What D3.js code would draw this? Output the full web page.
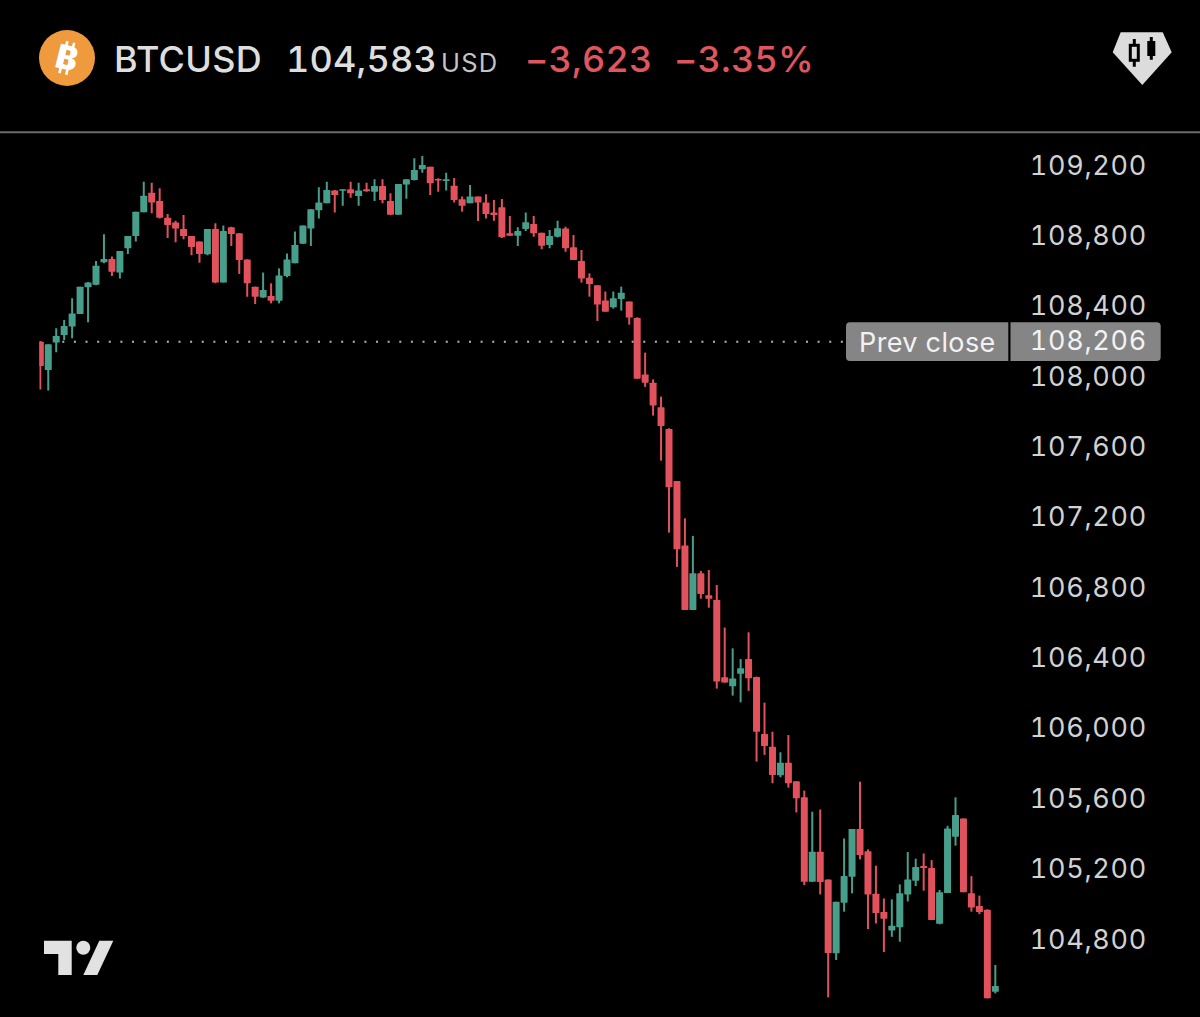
<!DOCTYPE html>
<html>
<head>
<meta charset="utf-8">
<script src="https://cdn.jsdelivr.net/npm/d3@7"></script>
<style>
html, body { margin: 0; padding: 0; background: #000; }
svg { display: block; }
text { font-family: Inter, "Noto Sans", sans-serif; font-variant-numeric: tabular-nums; font-feature-settings: "tnum" 1; }
</style>
</head>
<body>
<div id="graph"></div>
<script>
var opens = [108204,108043,108199,108242,108290,108362,108513,108528,108655,108674,108597,108735,108805,108940,109051,109004,108909,108881,108845,108805,
  108773,108701,108845,108540,108854,108820,108672,108517,108456,108464,108437,108578,108650,108761,108847,108951,108991,109063,109063,109070,
  109032,109070,109057,109089,109004,108926,109097,109123,109184,109199,109129,109118,109091,109014,108991,109029,108996,108938,108968,108820,
  108807,108845,108873,108824,108754,108801,108847,108741,108663,108568,108525,108438,108400,108447,108432,108339,108017,107971,107831,107708,
  107412,107045,106679,106888,106762,106736,106296,106245,106317,106400,106298,105974,105902,105739,105811,105705,105614,105134,105305,105147,
  104727,105015,105163,105434,105308,105066,104962,104857,104876,105062,105140,105223,105212,104895,105070,105390,105494,105068,104996,104975,
  104509];
var closes = [108066,108189,108237,108293,108365,108517,108540,108636,108674,108602,108720,108805,108943,109034,108996,108909,108868,108847,108805,108743,
  108703,108845,108540,108833,108816,108669,108536,108460,108498,108437,108581,108672,108754,108864,108957,108996,109067,109038,109070,109048,
  109063,109059,109089,109010,108926,109101,109127,109180,109209,109105,109120,109127,109010,108977,109029,108995,108930,108924,108798,108807,
  108833,108883,108820,108750,108805,108849,108735,108669,108564,108532,108415,108375,108451,108483,108341,107994,107971,107842,107725,107376,
  107024,106679,106888,106770,106743,106272,106266,106289,106347,106291,105987,105906,105741,105811,105694,105608,105134,105305,105132,104729,
  105020,105166,105434,105286,105062,104956,104924,104884,105068,105147,105218,105212,104916,105075,105437,105513,105075,104988,104962,104471,
  104541];
var highs = [108208,108189,108280,108327,108451,108517,108544,108663,108815,108688,108720,108805,108943,109114,109108,109076,108930,108892,108924,108805,
  108773,108845,108877,108864,108858,108820,108672,108517,108597,108536,108621,108706,108830,108864,108957,109082,109114,109067,109070,109114,
  109108,109108,109127,109127,109048,109101,109127,109247,109260,109199,109133,109165,109135,109029,109095,109029,109042,109010,109015,108919,
  108854,108938,108919,108824,108839,108892,108858,108811,108726,108593,108525,108489,108489,108517,108432,108343,108142,107990,107892,107712,
  107412,107200,107100,106901,106906,106821,106579,106461,106400,106552,106300,106152,105987,105870,105968,105705,105652,105532,105545,105147,
  105020,105380,105434,105703,105318,105225,105039,105034,105119,105303,105265,105295,105257,105087,105452,105614,105494,105166,105055,104977,
  104661];
var lows = [107933,107926,108144,108214,108223,108362,108314,108525,108650,108578,108564,108703,108773,108940,108934,108905,108794,108769,108786,108695,
  108653,108695,108536,108540,108748,108589,108460,108418,108453,108422,108422,108570,108650,108761,108748,108905,108991,108938,108977,109023,
  108977,109057,109004,108991,108926,108926,109017,109120,109165,109038,109057,109063,108996,108943,108991,108890,108905,108892,108794,108807,
  108748,108833,108801,108729,108735,108797,108716,108669,108540,108460,108322,108375,108392,108381,108301,107994,107947,107784,107528,107119,
  106924,106679,106679,106743,106692,106232,106266,106192,106154,106219,105817,105855,105694,105728,105669,105528,105115,105134,105062,104477,
  104689,104964,105068,105261,104865,104897,104734,104821,104793,105022,105109,105083,104916,104892,105070,105339,105075,104964,104950,104471,
  104499];

var priceTicks = [109200,108800,108400,108000,107600,107200,106800,106400,106000,105600,105200,104800];
var prevClose = 108206;

var red = "#e2525c";
var green = "#479e8a";
var labelGrey = "#d2d2d2";

var width = 1200, height = 1017;

var svg = d3.select("#graph").append("svg")
  .attr("width", width)
  .attr("height", height);

svg.append("rect").attr("width", width).attr("height", height).attr("fill", "#000");

var x = d3.scaleLinear().domain([0, opens.length - 1]).range([40.3, 995.3]);
var y = d3.scaleLinear().domain([109200, 104800]).range([166.5, 940.5]);

svg.append("defs").append("clipPath").attr("id", "plot")
  .append("rect").attr("x", 39.3).attr("y", 135).attr("width", 1000).attr("height", 880);

// header
var bx = 67, by = 58;
svg.append("circle").attr("cx", bx).attr("cy", by).attr("r", 28).attr("fill", "#ef9a3d");
var coin = svg.append("g").attr("transform", "translate(" + bx + "," + by + ") rotate(14)");
coin.append("text").attr("text-anchor", "middle").attr("y", 11.5)
  .attr("font-size", 33).attr("font-weight", 800).attr("fill", "#fff").text("B");
[-4, 3].forEach(function(dx) {
  coin.append("rect").attr("x", dx - 1).attr("y", -16.5).attr("width", 2.6).attr("height", 33).attr("fill", "#fff");
});

function headerText(tx, size, fill, str, spacing) {
  return svg.append("text").attr("x", tx).attr("y", 71.5)
    .attr("font-size", size).attr("font-weight", 500).attr("fill", fill)
    .attr("letter-spacing", spacing || 0).text(str);
}
headerText(114, 36, "#dedede", "BTCUSD", 0.3);
headerText(286, 36, "#dedede", "104,583", 0.2);
headerText(441, 25.5, "#c4c4c4", "USD", 1.2).attr("font-weight", 400);
headerText(525, 36, "#e0565f", "\u22123,623", 0.2);
headerText(674, 36, "#e0565f", "\u22123.35%", 0.2);

svg.append("line").attr("x1", 0).attr("x2", width).attr("y1", 132.3).attr("y2", 132.3)
  .attr("stroke", "#6a6a6a").attr("stroke-width", 2);

// diamond badge
svg.append("path").attr("d", "M1120.7,32.3H1162.7L1171.7,52.3L1142.3,85L1112.7,52.3Z").attr("fill", "#dcdcdc");
svg.append("path").attr("d", "M1134.3,39V66.7M1151.3,37V59.7").attr("stroke", "#000").attr("stroke-width", 3);
svg.append("rect").attr("x", 1130.3).attr("y", 45.3).attr("width", 8).attr("height", 15)
  .attr("fill", "#dcdcdc").attr("stroke", "#000").attr("stroke-width", 3);
svg.append("rect").attr("x", 1147.3).attr("y", 41).attr("width", 8).attr("height", 15).attr("fill", "#000");

// prev close dots
svg.append("line").attr("x1", 62.3).attr("x2", 845)
  .attr("y1", y(prevClose) + 0.5).attr("y2", y(prevClose) + 0.5)
  .attr("stroke", "#b4b4b4").attr("stroke-width", 2).attr("stroke-dasharray", "2 9.62");

// candles
var candles = svg.append("g").attr("clip-path", "url(#plot)")
  .selectAll("g").data(d3.range(opens.length)).enter().append("g");

candles.append("line")
  .attr("x1", i => x(i)).attr("x2", i => x(i))
  .attr("y1", i => y(highs[i])).attr("y2", i => y(lows[i]))
  .attr("stroke", i => closes[i] >= opens[i] ? green : red)
  .attr("stroke-width", 2);

candles.append("rect")
  .attr("x", i => x(i) - 3.5)
  .attr("width", 7)
  .attr("y", i => y(Math.max(opens[i], closes[i])))
  .attr("height", i => Math.max(1.5, Math.abs(y(opens[i]) - y(closes[i]))))
  .attr("rx", 0.6)
  .attr("fill", i => closes[i] >= opens[i] ? green : red);

// price axis
var axis = d3.axisRight(y)
  .tickValues(priceTicks)
  .tickSize(0)
  .tickFormat(d3.format(","));

var axisG = svg.append("g").attr("transform", "translate(1147,0)").call(axis);
axisG.select(".domain").remove();
axisG.selectAll("text")
  .attr("x", 0).attr("dy", null).attr("y", 7.5)
  .attr("text-anchor", "end")
  .attr("font-size", 27)
  .attr("letter-spacing", 0.7)
  .attr("fill", labelGrey)
  .style("font-family", "Inter");

// prev close pill
var pillTop = y(prevClose) - 19, pillBottom = y(prevClose) + 19.6;
svg.append("path")
  .attr("d", "M1008.3," + pillTop + "H850a4,4 0 0 0 -4,4V" + (pillBottom - 4) + "a4,4 0 0 0 4,4H1008.3Z")
  .attr("fill", "#858585");
svg.append("path")
  .attr("d", "M1010.5," + pillTop + "H1156.7a4,4 0 0 1 4,4V" + (pillBottom - 4) + "a4,4 0 0 1 -4,4H1010.5Z")
  .attr("fill", "#858585");
svg.append("text").attr("x", 859).attr("y", y(prevClose) + 11)
  .attr("font-size", 27).attr("letter-spacing", 0.4).attr("fill", "#f2f2f2").text("Prev close");
svg.append("text").attr("x", 1147).attr("y", y(prevClose) + 8.5)
  .attr("text-anchor", "end").attr("font-size", 27).attr("letter-spacing", 0.7)
  .attr("fill", "#f2f2f2").text(d3.format(",")(prevClose));

// logo
svg.append("path").attr("d", "M44,940.7H71.7V975H58.3V954H44Z").attr("fill", "#e2e2e2");
svg.append("circle").attr("cx", 83.3).attr("cy", 947.7).attr("r", 7).attr("fill", "#e2e2e2");
svg.append("path").attr("d", "M99.3,940.7H113.3L97.3,975H83.3Z").attr("fill", "#e2e2e2");
</script>
</body>
</html>
